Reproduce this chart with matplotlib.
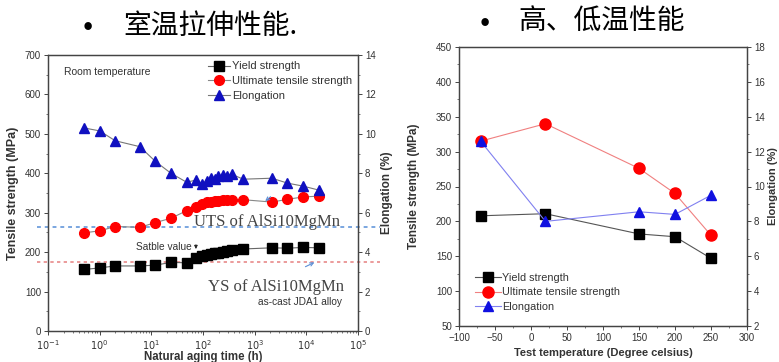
import matplotlib
matplotlib.use("Agg")
import matplotlib.pyplot as plt
import matplotlib.transforms as mtransforms
from matplotlib.ticker import MultipleLocator, LogLocator, NullFormatter

plt.rcParams['font.family'] = ['Liberation Sans', 'DejaVu Sans']

# ---------- Left panel data (room temperature, natural aging) ----------
aging_time = [0.5, 1, 2, 6, 12, 24, 48, 72, 96, 120, 144, 168, 192, 240, 288, 360, 600, 2160, 4320, 8640, 17280]
rt_ys = [156, 160, 165, 165, 167, 174, 173, 185, 190, 193, 196, 198, 199, 201, 203, 205, 208, 211, 210, 212, 211]
rt_uts = [249, 254, 265, 263, 275, 286, 305, 315, 322, 326, 328, 330, 330, 331, 331, 331, 333, 327, 334, 340, 342]
rt_el = [10.3, 10.15, 9.65, 9.35, 8.6, 8.0, 7.55, 7.65, 7.45, 7.6, 7.75, 7.7, 7.85, 7.9, 7.85, 7.95, 7.7, 7.75, 7.5, 7.35, 7.15]
ref_uts = 264   # UTS of AlSi10MgMn
ref_ys = 176    # YS of AlSi10MgMn
time_ticks = [0.1, 1, 10, 100, 1000, 10000, 100000]
time_tick_labels = ['$10^{-1}$', '$10^{0}$', '$10^{1}$', '$10^{2}$', '$10^{3}$', '$10^{4}$', '$10^{5}$']

# ---------- Right panel data (high / low temperature) ----------
test_temp = [-70, 20, 150, 200, 250]
ht_ys = [208, 211, 182, 178, 147]
ht_uts = [315, 340, 276, 240, 180]
ht_el = [12.6, 8.0, 8.55, 8.4, 9.5]

title_left = "室温拉伸性能."
title_right = "高、低温性能"

fig = plt.figure(figsize=(7.79, 3.62), dpi=100)
cjk = ['Noto Sans CJK SC', 'DejaVu Sans']
tc = '#333333'

def style_axes(ax):
    for s in ax.spines.values():
        s.set_color('#444444')
        s.set_linewidth(0.9)
    ax.tick_params(labelsize=7, colors='#444444', labelcolor=tc, length=3, width=0.7,
                   direction='out', pad=2)
    ax.tick_params(which='minor', length=1.5, width=0.5, colors='#444444')

# ====================== Left panel ======================
axL = fig.add_axes([48/779, 1-331/362, 310/779, 276/362])
axL2 = axL.twinx()
axL.set_xscale('log')
axL.set_xlim(0.1, 1e5)
axL.set_ylim(0, 700)
axL2.set_ylim(0, 14)
axL.yaxis.set_major_locator(MultipleLocator(100))
axL.yaxis.set_minor_locator(MultipleLocator(50))
axL2.yaxis.set_major_locator(MultipleLocator(2))
axL2.yaxis.set_minor_locator(MultipleLocator(1))
axL.set_xticks(time_ticks, time_tick_labels)
axL.xaxis.set_minor_locator(LogLocator(base=10, subs=range(2, 10), numticks=20))
axL.xaxis.set_minor_formatter(NullFormatter())
axL.set_xlim(0.1, 1e5)
style_axes(axL); style_axes(axL2)

l1, = axL.plot(aging_time, rt_ys, '-', color='#666666', lw=0.8, marker='s', ms=6.5,
               mfc='black', mec='black', label='Yield strength')
l2, = axL.plot(aging_time, rt_uts, '-', color='#888888', lw=0.8, marker='o', ms=7,
               mfc='red', mec='red', label='Ultimate tensile strength')
l3, = axL2.plot(aging_time, rt_el, '-', color='#777777', lw=0.8, marker='^', ms=7,
                mfc='#1010c0', mec='#1010c0', label='Elongation')

trans = mtransforms.blended_transform_factory(axL.transAxes, axL.transData)
axL.plot([-0.035, 1.07], [ref_uts, ref_uts], ls=(0, (2, 2)), color='#7aa6e0', lw=1.4,
         transform=trans, clip_on=False, zorder=1)
axL.plot([-0.035, 1.07], [ref_ys, ref_ys], ls=(0, (2, 2)), color='#e88a8a', lw=1.2,
         transform=trans, clip_on=False, zorder=1)

axL.legend(handles=[l1, l2, l3], loc='upper right', bbox_to_anchor=(1.005, 1.005), fontsize=8,
           frameon=False, handlelength=2.0, handletextpad=0.15, labelspacing=0.42, borderaxespad=0.3,
           labelcolor=tc)
axL.text(0.05, 0.94, 'Room temperature', transform=axL.transAxes, fontsize=7.5, color=tc, va='center')
axL.text(0.95, 0.105, 'as-cast JDA1 alloy', transform=axL.transAxes, fontsize=7.3, color=tc,
         va='center', ha='right')
axL.text(0.375, 0.304, 'Satble value', transform=axL.transAxes, fontsize=7.3, color=tc,
         va='center', ha='center')
axL.annotate('', xy=(73, 201), xytext=(73, 226),
             arrowprops=dict(arrowstyle='-|>', color='#222222', lw=0.6, mutation_scale=5))
axL.text(0.942, 0.395, 'UTS of AlSi10MgMn', transform=axL.transAxes, fontsize=12,
         family=['Liberation Serif', 'DejaVu Serif'], color='#444444', ha='right', va='center')
axL.text(0.955, 0.16, 'YS of AlSi10MgMn', transform=axL.transAxes, fontsize=12,
         family=['Liberation Serif', 'DejaVu Serif'], color='#444444', ha='right', va='center')
axL.annotate('', xy=(1450, 325), xytext=(2240, 345),
             arrowprops=dict(arrowstyle='->', color='#5b8fd6', lw=0.8, mutation_scale=6))
axL.annotate('', xy=(16000, 177), xytext=(8600, 160),
             arrowprops=dict(arrowstyle='->', color='#5b8fd6', lw=0.8, mutation_scale=6))

axL.set_ylabel('Tensile strength (MPa)', fontsize=9, fontweight='bold', color=tc)
axL.yaxis.set_label_coords(-0.095, 0.5)
axL2.set_ylabel('Elongation (%)', fontsize=8.5, fontweight='bold', color=tc)
axL2.yaxis.set_label_coords(1.075, 0.5)
axL.set_xlabel('Natural aging time (h)', fontsize=8.3, fontweight='bold', color=tc)
axL.xaxis.set_label_coords(0.5, -0.072)

# ====================== Right panel ======================
axR = fig.add_axes([459/779, 1-326/362, 288/779, 279/362])
axR2 = axR.twinx()
axR.set_xlim(-100, 300)
axR.set_ylim(50, 450)
axR2.set_ylim(2, 18)
axR.xaxis.set_major_locator(MultipleLocator(50))
axR.xaxis.set_minor_locator(MultipleLocator(25))
axR.yaxis.set_major_locator(MultipleLocator(50))
axR.yaxis.set_minor_locator(MultipleLocator(25))
axR2.yaxis.set_major_locator(MultipleLocator(2))
axR2.yaxis.set_minor_locator(MultipleLocator(1))
style_axes(axR); style_axes(axR2)

r1, = axR.plot(test_temp, ht_ys, '-', color='#555555', lw=0.8, marker='s', ms=7,
               mfc='black', mec='black', label='Yield strength')
r2, = axR.plot(test_temp, ht_uts, '-', color='#f08080', lw=0.8, marker='o', ms=8,
               mfc='red', mec='red', label='Ultimate tensile strength')
r3, = axR2.plot(test_temp, ht_el, '-', color='#8080f0', lw=0.8, marker='^', ms=7.5,
                mfc='#1010e0', mec='#1010e0', label='Elongation')
axR.legend(handles=[r1, r2, r3], loc='lower left', bbox_to_anchor=(0.04, 0.035), fontsize=7.8,
           frameon=False, handlelength=2.4, handletextpad=0.15, labelspacing=0.42, borderaxespad=0.0,
           labelcolor=tc)
axR.set_ylabel('Tensile strength (MPa)', fontsize=8.5, fontweight='bold', color=tc)
axR.yaxis.set_label_coords(-0.135, 0.5)
axR2.set_ylabel('Elongation (%)', fontsize=8, fontweight='bold', color=tc)
axR2.yaxis.set_label_coords(1.073, 0.5)
axR.set_xlabel('Test temperature (Degree celsius)', fontsize=8, fontweight='bold', color=tc)
axR.xaxis.set_label_coords(0.5, -0.08)

# ====================== Titles ======================
fig.text(88/779, 1-27/362, '●', fontsize=6, color='black', ha='center', va='center', family=cjk)
fig.text(123/779, 1-26/362, title_left, fontsize=20, color='black', ha='left', va='center', family=cjk)
fig.text(485/779, 1-22/362, '●', fontsize=6, color='black', ha='center', va='center', family=cjk)
fig.text(518/779, 1-21/362, title_right, fontsize=20, color='black', ha='left', va='center', family=cjk)

fig.savefig('out.png', dpi=100)
